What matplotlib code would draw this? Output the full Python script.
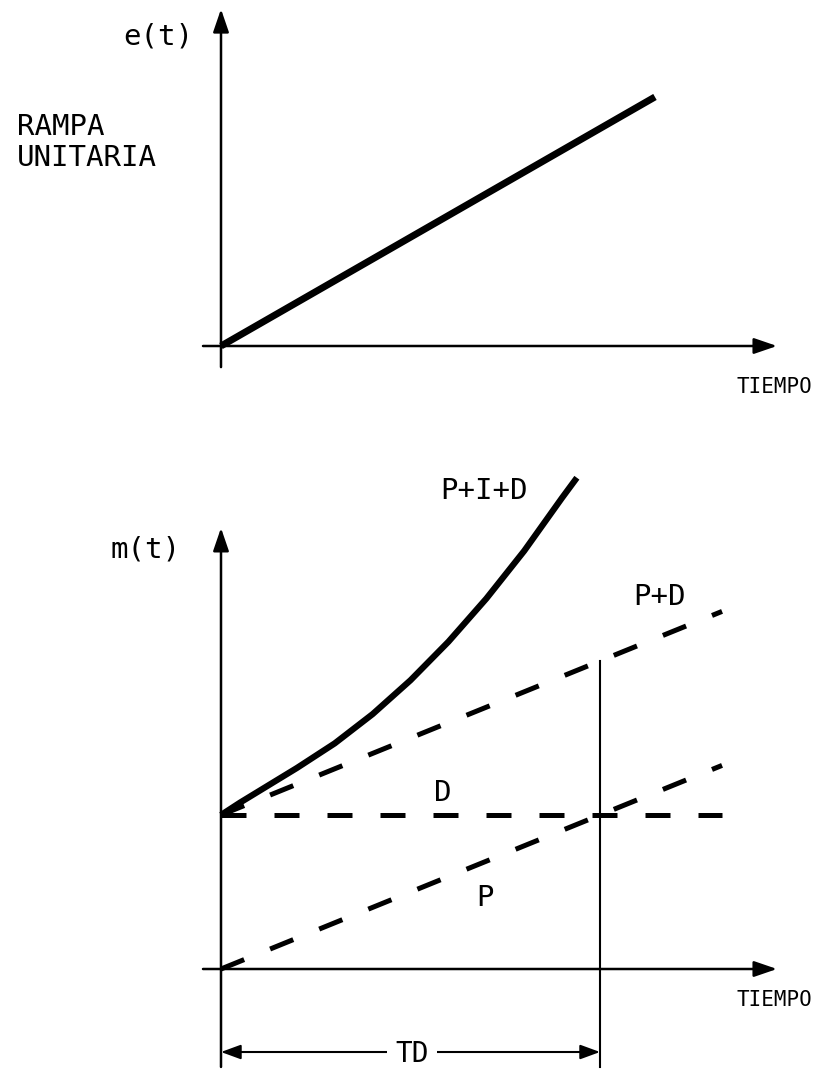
import matplotlib
matplotlib.use('Agg')
import matplotlib.pyplot as plt

# ramp input e(t)
t_ramp = [0.0, 1.145]
e_ramp = [0.0, 1.145]

# controller outputs m(t)
t_lin = [0.0, 1.322]
p_vals = [0.0, 1.322]
d_vals = [1.0, 1.0]
pd_vals = [1.0, 2.322]
t_pid = [0.0, 0.05, 0.1, 0.15, 0.2, 0.3, 0.4, 0.5, 0.6, 0.7, 0.8, 0.9, 0.939]
pid_vals = [1.0, 1.08, 1.155, 1.23, 1.305, 1.465, 1.655, 1.875, 2.125, 2.405,
            2.715, 3.06, 3.19]
TD = 1.0

FONT = 'DejaVu Sans Mono'
W, H = 816, 1069
fig = plt.figure(figsize=(W / 100, H / 100), dpi=100)

SPLIT = 460  # pixel row between the two panels
ax1 = fig.add_axes([0, 1 - SPLIT / H, 1, SPLIT / H])
ax2 = fig.add_axes([0, 0, 1, 1 - SPLIT / H])
for ax in (ax1, ax2):
    ax.axis('off')
    ax.set_xlim(-221 / 379, (W - 221) / 379)
ax1.set_ylim((346 - SPLIT) / 217.5, 346 / 217.5)
ax2.set_ylim((969 - H) / 154, (969 - SPLIT) / 154)

axis_arrow = dict(arrowstyle='-|>,head_length=0.7,head_width=0.24',
                  mutation_scale=20, lw=1.8, color='black', shrinkA=0, shrinkB=0)


def draw_axes(ax, x0, x1, y0, y1):
    ax.annotate('', xy=(x1, 0), xytext=(x0, 0), arrowprops=axis_arrow)
    ax.annotate('', xy=(0, y1), xytext=(0, y0), arrowprops=axis_arrow)


# ---- top panel ----
draw_axes(ax1, -0.0475, 1.467, -0.097, 1.549)
ax1.plot(t_ramp, e_ramp, color='black', lw=5, solid_capstyle='butt')
ax1.text(-0.074, 1.421, 'e(t)', family=FONT, fontsize=21, ha='right', va='center')
ax1.text(-0.538, 0.936, 'RAMPA\nUNITARIA', family=FONT, fontsize=21,
         ha='left', va='center', linespacing=1.15)
ax1.text(1.361, -0.189, 'TIEMPO', family=FONT, fontsize=15, ha='left', va='center')

# ---- bottom panel ----
draw_axes(ax2, -0.0475, 1.467, -0.636, 2.864)
dash = dict(color='black', lw=3.6, dashes=(5.0, 5.6), dash_capstyle='butt')
ax2.plot(t_lin, p_vals, **dash)
ax2.plot(t_lin, d_vals, **dash)
ax2.plot(t_lin, pd_vals, **dash)
ax2.plot(t_pid, pid_vals, color='black', lw=4.5, solid_capstyle='butt',
         solid_joinstyle='round')

# derivative time marker
pd_at_td = pd_vals[0] + (pd_vals[1] - pd_vals[0]) * TD / t_lin[1]
ax2.plot([TD, TD], [pd_at_td, -0.636], color='black', lw=1.5)
y_dim = -0.539
dim_arrow = dict(arrowstyle='<|-|>,head_length=0.6,head_width=0.22',
                 mutation_scale=20, lw=1.5, color='black', shrinkA=0, shrinkB=0)
ax2.annotate('', xy=(TD, y_dim), xytext=(0, y_dim), arrowprops=dim_arrow)
ax2.text(0.504, -0.55, 'TD', family=FONT, fontsize=20, ha='center', va='center',
         bbox=dict(facecolor='white', edgecolor='none', pad=6))

ax2.text(-0.108, 2.727, 'm(t)', family=FONT, fontsize=21, ha='right', va='center')
ax2.text(0.578, 3.104, 'P+I+D', family=FONT, fontsize=21, ha='left', va='center')
ax2.text(1.087, 2.416, 'P+D', family=FONT, fontsize=21, ha='left', va='center')
ax2.text(0.586, 1.143, 'D', family=FONT, fontsize=21, ha='center', va='center')
ax2.text(0.697, 0.461, 'P', family=FONT, fontsize=21, ha='center', va='center')
ax2.text(1.361, -0.201, 'TIEMPO', family=FONT, fontsize=15, ha='left', va='center')

fig.savefig('out.png', dpi=100)
